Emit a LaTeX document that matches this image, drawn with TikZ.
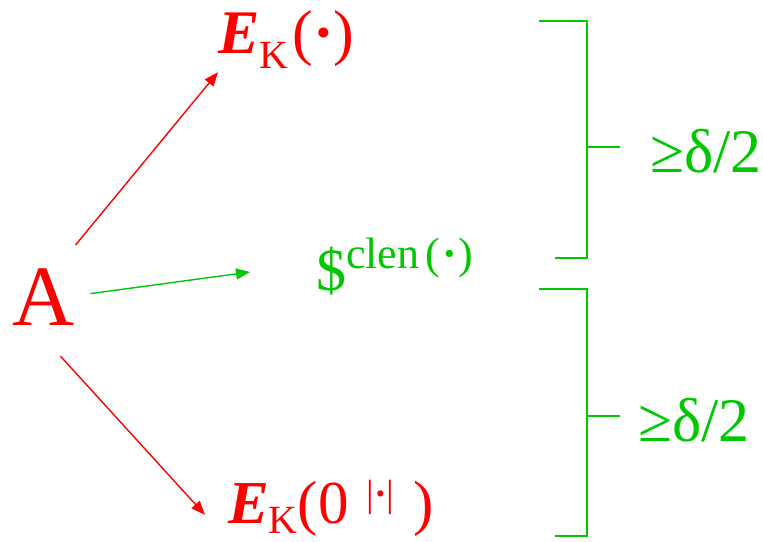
\documentclass[tikz,border=0pt]{standalone}
\usepackage{fontspec}
\setmainfont{Liberation Serif}
\usetikzlibrary{arrows.meta,positioning,calc}
\definecolor{adv}{HTML}{FF0000}
\definecolor{gap}{HTML}{00C800}

\begin{document}
\begin{tikzpicture}[x=1pt,y=-1pt,
    lbl/.style={inner sep=0pt,anchor=base west},
    advarrow/.style={adv,line width=1.4pt,-{Triangle[length=14pt,width=11pt]}},
    gaparrow/.style={gap,line width=1.4pt,-{Triangle[length=14pt,width=11pt]}},
    brace/.style={gap,line width=1.8pt}]
  \useasboundingbox (0,0) rectangle (763,541);

  % adversary
  \node[lbl,adv,font=\fontsize{86}{90}\selectfont] (A) at (12,325) {A};

  % real encryption
  \node[lbl,adv,font=\fontsize{62}{66}\selectfont] (ek) at (218,53)
    {\textbf{\textit{E}}\raisebox{-15pt}{\fontsize{40}{40}\selectfont K}\hspace{4pt}(\textbf{·})};

  % random string
  \node[lbl,gap,font=\fontsize{60}{64}\selectfont] (rnd) at (316,290)
    {\$\raisebox{22pt}{\fontsize{44}{46}\selectfont clen\hspace{6pt}(\hspace{2pt}\textbf{·}\hspace{2pt})}};

  % encryption of zeros
  \node[lbl,adv,font=\fontsize{61}{66}\selectfont] (ez) at (228,523)
    {\textbf{\textit{E}}\raisebox{-10pt}{\fontsize{40}{40}\selectfont K}(0\hspace{18pt}\raisebox{17pt}{\fontsize{38}{40}\selectfont |\textbf{·}|}\hspace{19pt})};

  % arrows
  \draw[advarrow] ([shift={(1,-23)}]A.north east) -- ([shift={(0,4)}]ek.south west);
  \draw[gaparrow] ([shift={(16,-3)}]A.east) -- ([shift={(-66,6)}]rnd.west);
  \draw[advarrow] ([shift={(-14,31)}]A.south east) -- ([shift={(-23,7)}]ez.west);

  % brackets
  \draw[brace] (539,21) -- (587,21) -- (587,258) -- (555,258);
  \draw[brace] (587,147) -- (620,147);
  \draw[brace] (539,289) -- (587,289) -- (587,536) -- (555,536);
  \draw[brace] (587,416) -- (620,416);
  \node[lbl,gap,font=\fontsize{62}{66}\selectfont] (d1) at (650,172) {≥δ/2};
  \node[lbl,gap,font=\fontsize{62}{66}\selectfont] (d2) at (638,441) {≥δ/2};
\end{tikzpicture}
\end{document}
